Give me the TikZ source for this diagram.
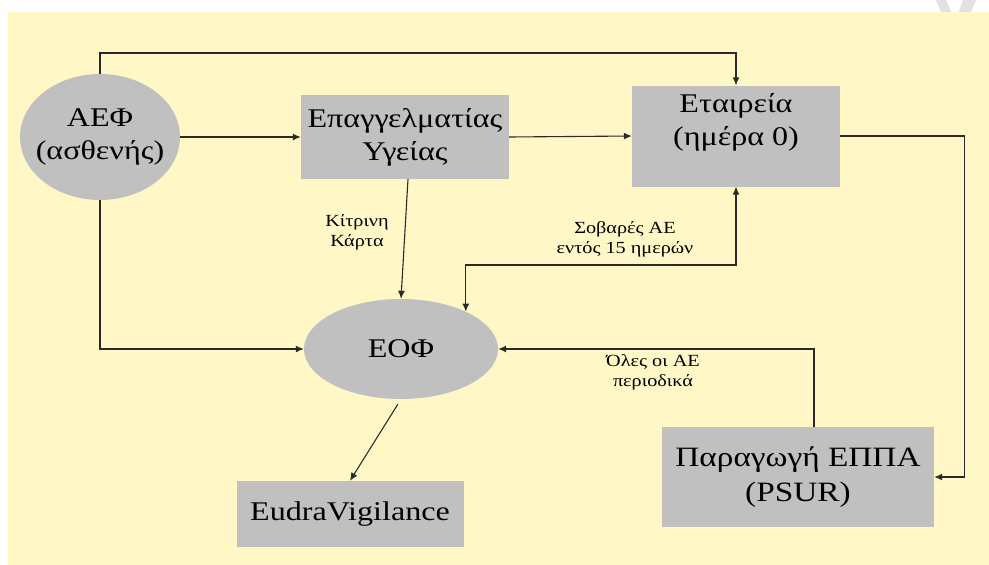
\documentclass[tikz,border=0pt]{standalone}
\usepackage{fontspec}
\setmainfont[FakeStretch=1.19]{Liberation Serif}
\usetikzlibrary{arrows.meta,shapes.geometric}
\definecolor{bgyellow}{HTML}{FFF8C6}
\definecolor{boxgray}{HTML}{C0C0C0}
\definecolor{wmgray}{HTML}{E2E2E2}
\definecolor{linecol}{HTML}{2A2A2A}
\tikzset{
  boxnode/.style={rectangle, fill=boxgray, draw=none, align=center, inner sep=0pt,
    font=\rmfamily\fontsize{27}{33}\selectfont},
  ellnode/.style={ellipse, fill=boxgray, draw=none, inner sep=0pt},
  elltext/.style={align=center, inner sep=0pt, font=\rmfamily\fontsize{27}{33}\selectfont},
  small/.style={align=center, font=\rmfamily\fontsize{17}{20}\selectfont, inner sep=0pt},
  arr/.style={draw=linecol, line width=1.1pt, -{Latex[length=8pt,width=7pt]}},
  arrtwo/.style={draw=linecol, line width=1.1pt, {Latex[length=8pt,width=7pt]}-{Latex[length=8pt,width=7pt]}},
}
\begin{document}
\begin{tikzpicture}[x=1pt,y=-1pt]
\useasboundingbox (0,0) rectangle (989,565);
\fill[white] (0,0) rectangle (989,565);
% watermark fragment
\fill[wmgray] (936,0) -- (946,0) -- (952,14) -- (942,14) -- cycle;
\fill[wmgray] (963,0) -- (976,0) -- (970,14) -- (958,14) -- cycle;
\fill[bgyellow] (8,12) rectangle (989,565);

\node[ellnode, minimum width=160, minimum height=126,
  label={[elltext]center:ΑΕΦ\\(ασθενής)}] (aef) at (100,137) {};
\node[boxnode, minimum width=208, minimum height=84] (hp) at (405,137) {Επαγγελματίας\\Υγείας};
\node[boxnode, minimum width=208, minimum height=101] (comp) at (736,136) {Εταιρεία\\(ημέρα 0)\\\mbox{}};
\node[ellnode, minimum width=194, minimum height=100,
  label={[elltext]center:ΕΟΦ}] (eof) at (401,349) {};
\node[boxnode, minimum width=227, minimum height=66] (eudra) at (350,514) {EudraVigilance};
\node[boxnode, minimum width=272, minimum height=100, font=\rmfamily\fontsize{28}{35}\selectfont] (psur) at (798,477) {Παραγωγή ΕΠΠΑ\\(PSUR)};

\node[small] (lbl1) at (357,232) {Κίτρινη\\Κάρτα};
\node[small] (lbl2) at (625,239) {Σοβαρές ΑΕ\\εντός 15 ημερών};
\node[small] (lbl3) at (653,372) {Όλες οι ΑΕ\\περιοδικά};

\draw[arr] (aef.north) -- (aef.north |- 0,53) -| (comp.north);
\draw[arr] (aef.east) -- (hp.west);
\draw[arr] (hp.east) -- (comp.west);
\draw[arr] (comp.east) -- ++(124,0) |- (psur.east);
\draw[arr] ([xshift=16pt]psur.north) |- (eof.east);
\draw[arr] ([xshift=3pt]hp.south) -- (eof.north);
\draw[arrtwo] (eof.30) -- (eof.30 |- 0,265) -| (comp.south);
\draw[arr] (aef.south) |- (eof.west);
\draw[arr, shorten <=6pt] (eof.south) -- (eudra.north);
\end{tikzpicture}
\end{document}
